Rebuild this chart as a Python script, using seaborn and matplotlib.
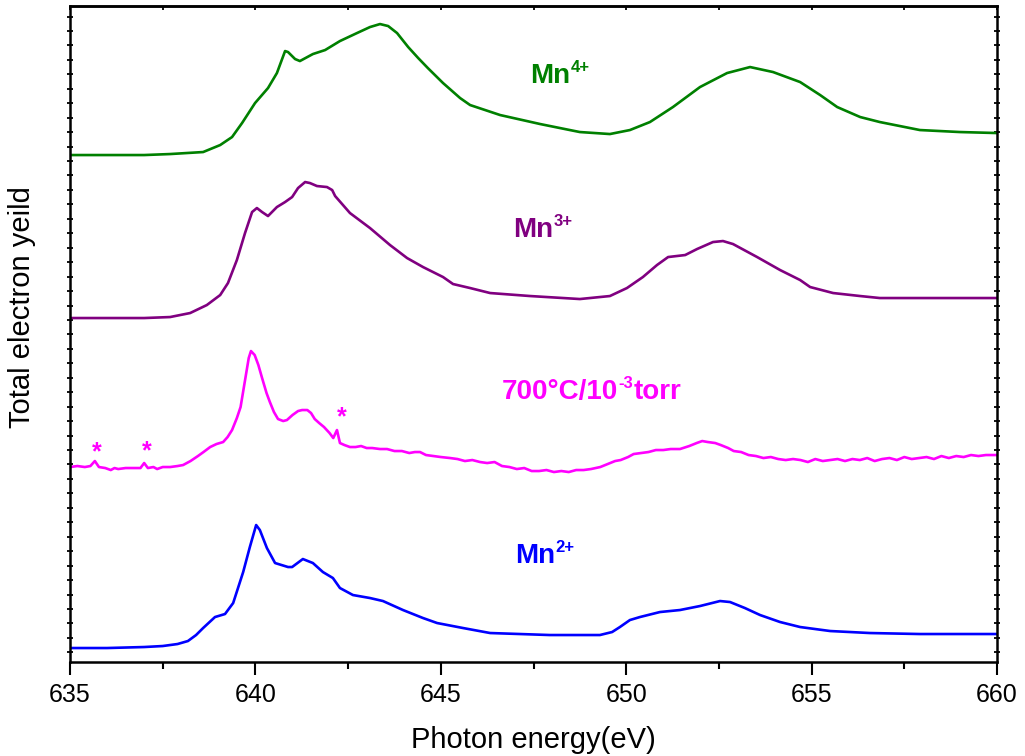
import numpy as np
import pandas as pd
import matplotlib
matplotlib.use("Agg")
import matplotlib.pyplot as plt
import seaborn as sns
from matplotlib.ticker import MultipleLocator, FixedLocator, NullFormatter

sns.set_style("ticks")
plt.rcParams["font.family"] = ["Liberation Sans", "DejaVu Sans"]
for key in ["text.color", "axes.labelcolor", "xtick.color", "ytick.color", "axes.edgecolor"]:
    plt.rcParams[key] = "black"

# ---- Mn L-edge TEY spectra (stacked, arbitrary units) ----
mn4_energy = [635.0, 636.0, 637.0, 637.7, 638.59, 639.05, 639.37, 639.64, 639.99, 640.34,
              640.58, 640.8, 640.88, 641.07, 641.2, 641.55, 641.88, 642.28, 642.74, 643.09,
              643.36, 643.58, 643.82, 644.12, 644.39, 644.65, 645.06, 645.52, 645.79, 646.6,
              647.68, 648.48, 648.75, 649.56, 650.1, 650.64, 651.26, 651.99, 652.72, 653.34,
              653.96, 654.69, 655.23, 655.69, 656.31, 656.84, 657.92, 659.0, 660.0]
mn4_yield = [507, 507, 507, 508, 510, 517, 525, 539, 559, 574,
             589, 611, 610, 603, 601, 608, 612, 621, 629, 635,
             638, 636, 629, 615, 604, 594, 579, 564, 557, 547,
             538, 532, 530, 528, 532, 540, 555, 575, 589, 595,
             590, 580, 567, 555, 545, 540, 532, 530, 529]

mn3_energy = [635.0, 636.0, 637.0, 637.7, 638.24, 638.69, 639.05, 639.26, 639.5, 639.72,
              639.91, 640.04, 640.18, 640.34, 640.58, 640.8, 640.99, 641.15, 641.34, 641.47,
              641.66, 641.93, 642.07, 642.15, 642.55, 643.09, 643.63, 644.09, 644.52, 645.06,
              645.33, 645.79, 646.33, 647.41, 648.75, 649.56, 650.02, 650.45, 650.83, 651.13,
              651.59, 651.91, 652.34, 652.61, 652.88, 653.53, 654.15, 654.69, 654.96, 655.58,
              656.31, 656.84, 657.92, 660.0]
mn3_yield = [344, 344, 344, 345, 349, 357, 367, 379, 402, 429,
             450, 454, 450, 446, 455, 460, 465, 474, 480, 479,
             476, 475, 472, 466, 449, 434, 417, 404, 395, 385,
             378, 374, 369, 366, 363, 366, 374, 385, 397, 405,
             407, 413, 420, 421, 418, 405, 392, 382, 375, 369,
             366, 364, 364, 364]

film_energy = [635.0, 635.2, 635.4, 635.55, 635.67, 635.78, 635.95, 636.1, 636.2, 636.3,
               636.5, 636.7, 636.9, 637.0, 637.1, 637.25, 637.35, 637.5, 637.7, 637.9,
               638.05, 638.25, 638.45, 638.6, 638.78, 638.95, 639.13, 639.25, 639.37, 639.5,
               639.6, 639.72, 639.82, 639.88, 639.98, 640.08, 640.18, 640.3, 640.39, 640.5,
               640.61, 640.75, 640.85, 641.0, 641.15, 641.26, 641.4, 641.5, 641.6, 641.72,
               641.85, 642.0, 642.1, 642.2, 642.28, 642.4, 642.55, 642.7, 642.85, 643.0,
               643.15, 643.36, 643.55, 643.75, 643.95, 644.15, 644.3, 644.44, 644.6, 644.8,
               645.0, 645.25, 645.45, 645.65, 645.85, 646.06, 646.25, 646.45, 646.65, 646.85,
               647.05, 647.25, 647.45, 647.65, 647.85, 648.05, 648.25, 648.45, 648.65, 648.85,
               649.05, 649.3, 649.5, 649.7, 649.85, 650.05, 650.2, 650.4, 650.6, 650.8,
               651.0, 651.2, 651.45, 651.7, 651.9, 652.05, 652.2, 652.4, 652.55, 652.75,
               652.9, 653.1, 653.3, 653.5, 653.7, 653.9, 654.1, 654.3, 654.5, 654.7,
               654.9, 655.1, 655.3, 655.5, 655.7, 655.9, 656.1, 656.3, 656.5, 656.7,
               656.9, 657.1, 657.3, 657.5, 657.7, 657.9, 658.1, 658.3, 658.5, 658.7,
               658.9, 659.1, 659.3, 659.5, 659.7, 660.0]
film_yield = [195, 196, 195, 196, 201, 195, 194, 192, 194, 193,
              194, 194, 194, 199, 194, 195, 193, 195, 195, 196,
              197, 201, 206, 210, 215, 218, 220, 225, 232, 244,
              255, 282, 304, 311, 307, 297, 284, 269, 260, 250,
              243, 241, 242, 247, 251, 252, 252, 249, 243, 239,
              235, 229, 224, 232, 219, 217, 215, 215, 216, 214,
              214, 213, 213, 211, 211, 209, 210, 210, 207, 206,
              205, 204, 203, 201, 202, 200, 199, 200, 196, 195,
              193, 194, 191, 191, 192, 190, 191, 190, 192, 192,
              193, 195, 198, 201, 202, 205, 208, 209, 210, 212,
              212, 213, 213, 216, 219, 221, 220, 219, 217, 214,
              211, 210, 207, 206, 204, 205, 203, 202, 203, 202,
              200, 203, 201, 202, 203, 201, 203, 202, 204, 201,
              203, 204, 202, 205, 203, 204, 205, 203, 206, 204,
              206, 205, 207, 206, 207, 207]

mn2_energy = [635.0, 636.0, 637.0, 637.5, 637.9, 638.18, 638.4, 638.59, 638.91, 639.18,
              639.4, 639.67, 639.85, 640.02, 640.12, 640.31, 640.53, 640.88, 640.99, 641.28,
              641.55, 641.82, 642.09, 642.28, 642.63, 643.09, 643.44, 643.98, 644.52, 644.9,
              645.6, 646.33, 647.94, 649.29, 649.62, 649.83, 650.1, 650.37, 650.91, 651.45,
              651.99, 652.53, 652.8, 653.2, 653.61, 654.15, 654.69, 655.5, 656.57, 657.92,
              660.0]
mn2_yield = [14, 14, 15, 16, 18, 21, 27, 34, 45, 48,
             59, 90, 115, 137, 132, 114, 99, 95, 95, 103,
             99, 90, 84, 74, 67, 64, 61, 52, 44, 39,
             34, 29, 27, 27, 30, 35, 42, 45, 50, 52,
             56, 61, 60, 54, 47, 40, 35, 31, 29, 28,
             28]

series_names = ["Mn4+", "Mn3+", "700C film", "Mn2+"]
series_colors = ["#008000", "#800080", "#FF00FF", "#0000FF"]

frames = []
for name, e, y in zip(series_names,
                      [mn4_energy, mn3_energy, film_energy, mn2_energy],
                      [mn4_yield, mn3_yield, film_yield, mn2_yield]):
    frames.append(pd.DataFrame({"energy": e, "tey": y, "sample": name}))
df = pd.concat(frames, ignore_index=True)

fig = plt.figure(figsize=(10.25, 7.56), dpi=100)
ax = fig.add_axes([0.0683, 0.1243, 0.9044, 0.8677])

sns.lineplot(data=df, x="energy", y="tey", hue="sample", hue_order=series_names,
             palette=series_colors, linewidth=1.9, legend=False, sort=False,
             estimator=None, ax=ax)

ax.set_xlim(635, 660)
ax.set_ylim(0, 656)

# spines and ticks
for sp in ax.spines.values():
    sp.set_visible(True)
    sp.set_linewidth(1.8)
    sp.set_color("black")

ax.xaxis.set_major_locator(MultipleLocator(5))
ax.xaxis.set_minor_locator(MultipleLocator(2.5))
ax.tick_params(axis="x", which="major", direction="out", length=9, width=1.5,
               labelsize=18, pad=6, top=False)
ax.tick_params(axis="x", which="minor", direction="out", length=5, width=1.5, top=False)

ax.yaxis.set_major_locator(FixedLocator(np.arange(9.7, 656, 14.45)))
ax.yaxis.set_major_formatter(NullFormatter())
ax.tick_params(axis="y", which="major", direction="inout", length=4, width=1.3,
               left=True, right=True, labelleft=False)

# top ticks drawn inward on a secondary axis
tax = ax.secondary_xaxis("top")
tax.xaxis.set_major_locator(MultipleLocator(2.5))
tax.tick_params(axis="x", direction="in", length=3, width=1.3, labeltop=False)
tax.spines["top"].set_linewidth(1.8)

ax.set_xlabel("Photon energy(eV)", fontsize=21, labelpad=14)
ax.set_ylabel("Total electron yeild", fontsize=21)
ax.yaxis.set_label_coords(-0.037, 0.541)


def label_with_sup(x, y, base, sup, color):
    """Bold label with a raised superscript."""
    t = ax.text(x, y, base, color=color, fontsize=20, fontweight="bold")
    ax.annotate(sup, xy=(1, 1), xycoords=t, xytext=(0.5, 2.5),
                textcoords="offset points", ha="left", va="top",
                color=color, fontsize=12, fontweight="bold")
    return t


label_with_sup(647.41, 579, "Mn", "4+", "#008000")
label_with_sup(646.95, 425, "Mn", "3+", "#800080")
t700 = label_with_sup(646.64, 263, "700\u00b0C/10", "-3", "#FF00FF")
ax.annotate("torr", xy=(1, 0), xycoords=t700, xytext=(11.5, 0),
            textcoords="offset points", ha="left", va="bottom",
            color="#FF00FF", fontsize=20, fontweight="bold")
label_with_sup(647.0, 99, "Mn", "2+", "#0000FF")

# markers for spurious peaks in the film spectrum
for xs, ys in [(635.72, 210), (637.07, 211), (642.33, 245)]:
    ax.text(xs, ys, "*", color="#FF00FF", fontsize=18, fontweight="bold",
            ha="center", va="center")

fig.savefig("out.png", dpi=100)
